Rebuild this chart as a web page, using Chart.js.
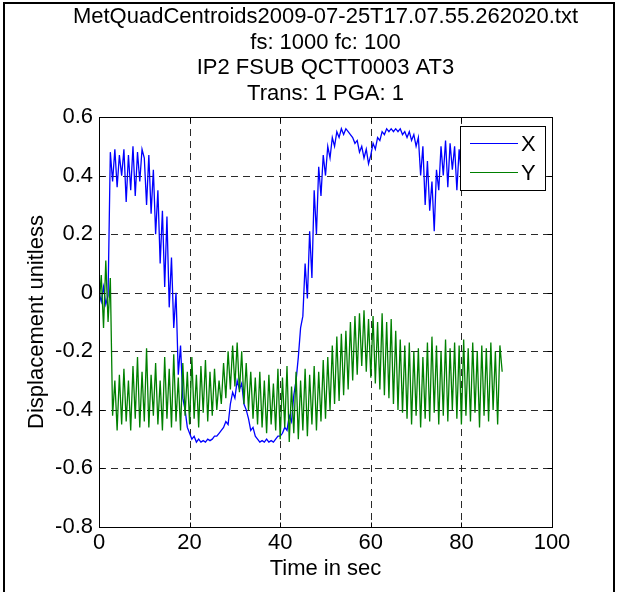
<!DOCTYPE html>
<html><head><meta charset="utf-8">
<script src="https://cdn.jsdelivr.net/npm/chart.js@4/dist/chart.umd.min.js"></script>
<style>html,body{margin:0;padding:0;background:#fff;} canvas{display:block;}</style>
</head><body>
<canvas id="c" width="619" height="592"></canvas>
<script>
// ---------- data ----------
const titleLines = [
  'MetQuadCentroids2009-07-25T17.07.55.262020.txt',
  'fs: 1000 fc: 100',
  'IP2 FSUB QCTT0003 AT3',
  'Trans: 1 PGA: 1'
];
const xAxisTitle = 'Time in sec';
const yAxisTitle = 'Displacement unitless';
const seriesNames = ['X', 'Y'];
const sampleStep = 0.5; // seconds between samples
const xValues = [
  0.00, -0.03, 0.02, -0.04, -0.01, 0.48, 0.38, 0.49, 0.36, 0.47,
  0.40, 0.49, 0.31, 0.47, 0.35, 0.50, 0.33, 0.48, 0.38, 0.49,
  0.46, 0.30, 0.47, 0.27, 0.42, 0.20, 0.35, 0.10, 0.28, 0.02,
  0.26, -0.05, 0.12, -0.12, 0.00, -0.28, -0.18, -0.36, -0.40, -0.46,
  -0.48, -0.50, -0.49, -0.51, -0.50, -0.51, -0.505, -0.51, -0.50, -0.505,
  -0.50, -0.49, -0.49, -0.48, -0.47, -0.46, -0.44, -0.45, -0.38, -0.34,
  -0.36, -0.30, -0.33, -0.31, -0.38, -0.40, -0.43, -0.47, -0.46, -0.49,
  -0.50, -0.51, -0.505, -0.51, -0.50, -0.51, -0.505, -0.51, -0.50, -0.49,
  -0.49, -0.48, -0.46, -0.47, -0.42, -0.44, -0.35, -0.30, -0.22, -0.12,
  -0.08, 0.10, -0.02, 0.21, 0.05, 0.35, 0.20, 0.43, 0.33, 0.47,
  0.40, 0.50, 0.46, 0.53, 0.50, 0.55, 0.53, 0.56, 0.54, 0.56,
  0.55, 0.54, 0.53, 0.51, 0.52, 0.48, 0.50, 0.46, 0.49, 0.44,
  0.47, 0.51, 0.49, 0.53, 0.52, 0.55, 0.54, 0.56, 0.55, 0.56,
  0.55, 0.56, 0.55, 0.56, 0.54, 0.55, 0.53, 0.55, 0.52, 0.54,
  0.50, 0.53, 0.40, 0.50, 0.30, 0.45, 0.28, 0.38, 0.21, 0.42,
  0.35, 0.50, 0.40, 0.52, 0.36, 0.51, 0.42, 0.50, 0.35, 0.49,
  0.40, 0.52, 0.42, 0.50, 0.38, 0.53, 0.43, 0.51, 0.40, 0.50,
  0.42, 0.52, 0.44, 0.50, 0.40, 0.51, 0.43, 0.49, 0.45
];
const yValues = [
  -0.05, 0.06, -0.12, 0.11, -0.10, 0.05, -0.42, -0.30, -0.47, -0.28,
  -0.45, -0.26, -0.44, -0.30, -0.47, -0.25, -0.43, -0.22, -0.46, -0.27,
  -0.44, -0.19, -0.46, -0.28, -0.42, -0.24, -0.45, -0.30, -0.47, -0.22,
  -0.43, -0.26, -0.46, -0.21, -0.44, -0.29, -0.47, -0.24, -0.42, -0.27,
  -0.45, -0.22, -0.43, -0.28, -0.46, -0.25, -0.41, -0.23, -0.44, -0.27,
  -0.42, -0.26, -0.40, -0.30, -0.38, -0.24, -0.36, -0.20, -0.33, -0.18,
  -0.32, -0.17, -0.34, -0.20, -0.38, -0.24, -0.40, -0.27, -0.43, -0.29,
  -0.45, -0.27, -0.46, -0.30, -0.48, -0.28, -0.45, -0.31, -0.47, -0.26,
  -0.50, -0.29, -0.46, -0.25, -0.51, -0.32, -0.48, -0.27, -0.50, -0.30,
  -0.47, -0.26, -0.49, -0.28, -0.45, -0.25, -0.47, -0.27, -0.44, -0.23,
  -0.43, -0.22, -0.40, -0.18, -0.38, -0.15, -0.37, -0.14, -0.35, -0.13,
  -0.33, -0.10, -0.30, -0.08, -0.28, -0.07, -0.25, -0.06, -0.27, -0.09,
  -0.29, -0.08, -0.31, -0.10, -0.33, -0.07, -0.35, -0.10, -0.36, -0.09,
  -0.38, -0.13, -0.40, -0.16, -0.41, -0.18, -0.43, -0.17, -0.45, -0.20,
  -0.42, -0.19, -0.46, -0.22, -0.43, -0.17, -0.44, -0.15, -0.41, -0.18,
  -0.45, -0.20, -0.42, -0.16, -0.44, -0.19, -0.40, -0.17, -0.43, -0.18,
  -0.45, -0.16, -0.42, -0.19, -0.44, -0.17, -0.41, -0.20, -0.46, -0.18,
  -0.42, -0.19, -0.44, -0.17, -0.40, -0.20, -0.45, -0.18, -0.27
];
const xTickLabels = ['0', '20', '40', '60', '80', '100'];
const yTickLabels = ['-0.8', '-0.6', '-0.4', '-0.2', '0', '0.2', '0.4', '0.6'];

// ---------- build ----------
const FONT_FAMILY = "'Liberation Sans', Arial, Helvetica, sans-serif";
const FONT = {family: FONT_FAMILY, size: 22};
const seriesColors = ['#0000ff', '#008000'];
const toPoints = vals => vals.map((v, i) => ({x: i * sampleStep, y: v}));

const matlabPlugin = {
  id: 'matlab',
  beforeDraw(chart) {
    const ctx = chart.ctx;
    ctx.save();
    ctx.fillStyle = '#fff';
    ctx.fillRect(0, 0, chart.width, chart.height);
    ctx.restore();
  },
  beforeDatasetsDraw(chart) {
    const {ctx, chartArea: a, scales} = chart;
    ctx.save();
    ctx.strokeStyle = '#2a2a2a';
    ctx.lineWidth = 1;
    ctx.setLineDash([7, 5]);
    scales.x.ticks.forEach(t => {
      if (t.value <= scales.x.min || t.value >= scales.x.max) return;
      const px = Math.round(scales.x.getPixelForValue(t.value)) + 0.5;
      ctx.beginPath(); ctx.moveTo(px, a.top); ctx.lineTo(px, a.bottom); ctx.stroke();
    });
    scales.y.ticks.forEach(t => {
      if (t.value <= scales.y.min || t.value >= scales.y.max) return;
      const py = Math.round(scales.y.getPixelForValue(t.value)) + 0.5;
      ctx.beginPath(); ctx.moveTo(a.left, py); ctx.lineTo(a.right, py); ctx.stroke();
    });
    ctx.restore();
  },
  afterDatasetsDraw(chart) {
    const {ctx, chartArea: a, scales} = chart;
    ctx.save();
    ctx.strokeStyle = '#000';
    ctx.lineWidth = 1;
    ctx.setLineDash([]);
    const L = Math.round(a.left) + 0.5, R = Math.round(a.right) + 0.5;
    const T = Math.round(a.top) + 0.5, B = Math.round(a.bottom) + 0.5;
    ctx.strokeRect(L, T, R - L, B - T);
    const tl = 5;
    scales.x.ticks.forEach(t => {
      const px = Math.round(scales.x.getPixelForValue(t.value)) + 0.5;
      ctx.beginPath();
      ctx.moveTo(px, B); ctx.lineTo(px, B - tl);
      ctx.moveTo(px, T); ctx.lineTo(px, T + tl);
      ctx.stroke();
    });
    scales.y.ticks.forEach(t => {
      const py = Math.round(scales.y.getPixelForValue(t.value)) + 0.5;
      ctx.beginPath();
      ctx.moveTo(L, py); ctx.lineTo(L + tl, py);
      ctx.moveTo(R, py); ctx.lineTo(R - tl, py);
      ctx.stroke();
    });
    ctx.restore();
  },
  afterDraw(chart) {
    const {ctx, chartArea: a} = chart;
    ctx.save();
    // titles
    ctx.fillStyle = '#000';
    ctx.font = `22px ${FONT_FAMILY}`;
    ctx.textAlign = 'center';
    ctx.textBaseline = 'middle';
    const cx = (a.left + a.right) / 2;
    titleLines.forEach((line, i) => ctx.fillText(line, cx, 17 + i * 25.7));
    // legend
    const lx = 460.5, ly = 126.5, lw = 85, lh = 64;
    ctx.fillStyle = '#fff';
    ctx.fillRect(lx, ly, lw, lh);
    ctx.strokeStyle = '#000';
    ctx.lineWidth = 1;
    ctx.strokeRect(lx, ly, lw, lh);
    chart.data.datasets.forEach((ds, i) => {
      const y = 143.5 + i * 29;
      ctx.strokeStyle = ds.borderColor;
      ctx.beginPath(); ctx.moveTo(470, y); ctx.lineTo(518, y); ctx.stroke();
      ctx.fillStyle = '#000';
      ctx.textAlign = 'left';
      ctx.fillText(ds.label, 521, y + 1);
    });
    // outer frame
    ctx.fillStyle = '#000';
    ctx.fillRect(3, 2, 2, 590);
    ctx.fillRect(3, 2, 612, 2);
    ctx.fillRect(613, 2, 2, 590);
    ctx.restore();
  }
};

new Chart(document.getElementById('c'), {
  type: 'line',
  data: {
    datasets: [
      {label: seriesNames[0], data: toPoints(xValues), borderColor: seriesColors[0], borderWidth: 1.3, pointRadius: 0, tension: 0, fill: false, order: 1},
      {label: seriesNames[1], data: toPoints(yValues), borderColor: seriesColors[1], borderWidth: 1.3, pointRadius: 0, tension: 0, fill: false, order: 0}
    ]
  },
  options: {
    responsive: false,
    animation: false,
    devicePixelRatio: 1,
    layout: {padding: {left: 0, top: 117, right: 67, bottom: 0}},
    plugins: {legend: {display: false}, title: {display: false}, tooltip: {enabled: false}},
    scales: {
      x: {
        type: 'linear', min: 0, max: 100, position: 'bottom',
        grid: {display: false, drawTicks: false},
        border: {display: false},
        afterBuildTicks: s => { s.ticks = xTickLabels.map(l => ({value: parseFloat(l)})); },
        afterFit: s => { s.height = 65; },
        ticks: {
          color: '#000', font: FONT, padding: 3, maxRotation: 0, autoSkip: false,
          callback: v => xTickLabels.find(l => parseFloat(l) === v)
        },
        title: {display: true, text: xAxisTitle, color: '#000', font: FONT, padding: {top: 0, bottom: 10}}
      },
      y: {
        type: 'linear', min: -0.8, max: 0.6, position: 'left',
        grid: {display: false, drawTicks: false},
        border: {display: false},
        afterBuildTicks: s => { s.ticks = yTickLabels.map(l => ({value: parseFloat(l)})); },
        afterFit: s => { s.width = 99; },
        ticks: {
          color: '#000', font: FONT, padding: 6, autoSkip: false,
          callback: v => yTickLabels.find(l => Math.abs(parseFloat(l) - v) < 1e-9)
        },
        title: {display: true, text: yAxisTitle, color: '#000', font: FONT, padding: {top: 24, bottom: 0}}
      }
    }
  },
  plugins: [matlabPlugin]
});
</script>
</body></html>
